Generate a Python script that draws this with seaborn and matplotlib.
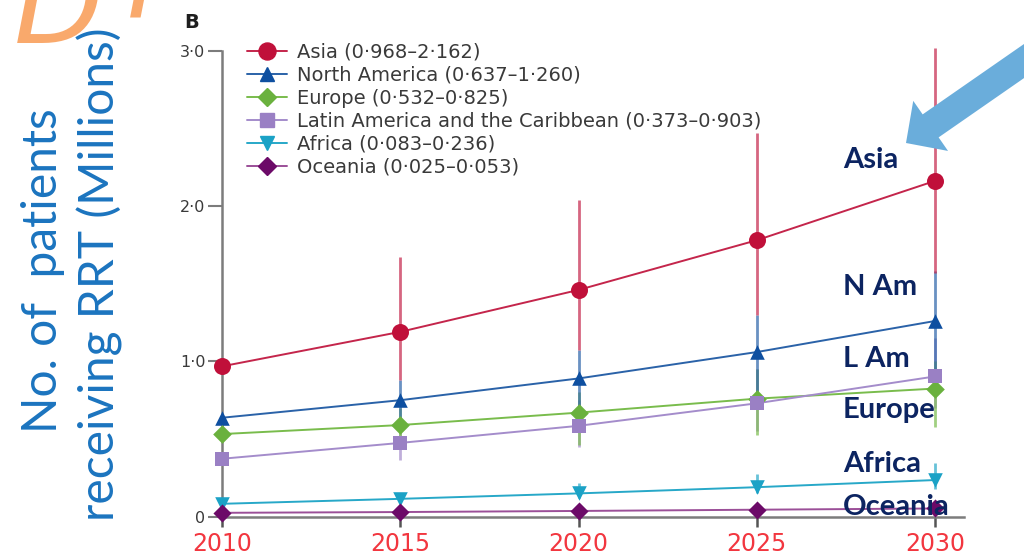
import matplotlib
matplotlib.use("Agg")
import matplotlib.pyplot as plt
from matplotlib.lines import Line2D
from matplotlib.patches import FancyArrow
import pandas as pd
import seaborn as sns

# ---- data (millions of patients receiving RRT) ----
years = [2010, 2015, 2020, 2025, 2030]

asia = [0.968, 1.19, 1.46, 1.78, 2.162]
asia_lo = [0.968, 0.88, 1.07, 1.30, 1.57]
asia_hi = [0.968, 1.67, 2.04, 2.47, 3.02]

north_america = [0.637, 0.75, 0.89, 1.06, 1.260]
north_america_lo = [0.637, 0.62, 0.70, 0.80, 0.92]
north_america_hi = [0.637, 0.88, 1.075, 1.30, 1.58]

europe = [0.532, 0.59, 0.67, 0.76, 0.825]
europe_lo = [0.532, 0.50, 0.46, 0.527, 0.58]
europe_hi = [0.532, 0.70, 0.80, 0.95, 1.00]

latin_america = [0.373, 0.475, 0.585, 0.73, 0.903]
latin_america_lo = [0.373, 0.365, 0.45, 0.55, 0.70]
latin_america_hi = [0.373, 0.62, 0.75, 0.95, 1.15]

africa = [0.083, 0.115, 0.15, 0.19, 0.236]
africa_lo = [0.083, 0.09, 0.12, 0.15, 0.18]
africa_hi = [0.083, 0.14, 0.215, 0.275, 0.345]

oceania = [0.025, 0.03, 0.037, 0.045, 0.053]
oceania_lo = [0.025, 0.022, 0.028, 0.034, 0.040]
oceania_hi = [0.025, 0.038, 0.046, 0.056, 0.066]

legend_labels = [
    "Asia (0·968–2·162)",
    "North America (0·637–1·260)",
    "Europe (0·532–0·825)",
    "Latin America and the Caribbean (0·373–0·903)",
    "Africa (0·083–0·236)",
    "Oceania (0·025–0·053)",
]
short_labels = ["Asia", "N Am", "L Am", "Europe", "Africa", "Oceania"]
y_tick_values = [0, 1, 2, 3]
y_tick_labels = ["0", "1·0", "2·0", "3·0"]
x_tick_labels = ["2010", "2015", "2020", "2025", "2030"]

series = [asia, north_america, europe, latin_america, africa, oceania]
lows = [asia_lo, north_america_lo, europe_lo, latin_america_lo, africa_lo, oceania_lo]
highs = [asia_hi, north_america_hi, europe_hi, latin_america_hi, africa_hi, oceania_hi]

line_colors = ["#c4254b", "#2a62a8", "#79bc4c", "#a48ccb", "#27a8c8", "#9b4f98"]
marker_colors = ["#c0103a", "#0e4fa0", "#6ab13e", "#9a80c4", "#1ba2c6", "#6c0a68"]
markers = ["o", "^", "D", "s", "v", "D"]
marker_sizes = [150, 110, 90, 110, 110, 85]

rows = []
for lab, vals, lo, hi in zip(legend_labels, series, lows, highs):
    for yr, v, l, h in zip(years, vals, lo, hi):
        rows.append({"year": yr, "value": v, "lo": l, "hi": h, "region": lab})
df = pd.DataFrame(rows)

sns.set_style("ticks")
plt.rcParams["font.family"] = ["DejaVu Sans"]

W, H = 1024, 558
fig = plt.figure(figsize=(W / 100, H / 100), dpi=100)
fig.patch.set_facecolor("white")

ax = fig.add_axes([222 / W, 1 - 516.7 / H, (964 - 222) / W, (516.7 - 50.7) / H])
ax.set_facecolor("white")

# uncertainty ranges, drawn underneath the lines
for lab, col in reversed(list(zip(legend_labels, line_colors))):
    sub = df[df["region"] == lab]
    ax.vlines(sub["year"], sub["lo"], sub["hi"], colors=col, lw=2.0,
              alpha=0.7, zorder=2, clip_on=False)

pal_lines = dict(zip(legend_labels, line_colors))
pal_markers = dict(zip(legend_labels, marker_colors))
marker_map = dict(zip(legend_labels, markers))
size_map = dict(zip(legend_labels, marker_sizes))

sns.lineplot(data=df, x="year", y="value", hue="region", palette=pal_lines,
             hue_order=legend_labels, lw=1.4, legend=False, ax=ax, zorder=3)
for lab in legend_labels:
    sub = df[df["region"] == lab]
    sns.scatterplot(data=sub, x="year", y="value", marker=marker_map[lab],
                    color=pal_markers[lab], s=size_map[lab], linewidth=0,
                    legend=False, ax=ax, zorder=4, clip_on=False)

ax.set_xlim(2010, 2030.81)
ax.set_ylim(0, 3.0)
ax.set_xticks(years)
ax.set_xticklabels(x_tick_labels)
ax.set_yticks(y_tick_values)
ax.set_yticklabels(y_tick_labels)
ax.set_xlabel("")
ax.set_ylabel("")

sns.despine(ax=ax)
for side in ("left", "bottom"):
    ax.spines[side].set_color("#7c7c7c")
    ax.spines[side].set_linewidth(1.8)
ax.tick_params(axis="y", direction="out", length=10, width=1.5, color="#7c7c7c",
               pad=2, labelsize=11.5, labelcolor="#3a3a3a")
ax.tick_params(axis="x", direction="out", length=7, width=1.8, color="#555555",
               pad=4, labelsize=17, labelcolor="#f2363f")

# legend
handles = [
    Line2D([0], [0], color=lc, lw=1.4, marker=m, markersize=ms ** 0.5,
           markerfacecolor=mc, markeredgecolor=mc)
    for lc, mc, m, ms in zip(line_colors, marker_colors, markers, marker_sizes)
]
leg = ax.legend(handles, legend_labels, loc="upper left",
                bbox_to_anchor=(247 / W, 1 - 43 / H), bbox_transform=fig.transFigure,
                frameon=False, fontsize=14, handlelength=2.05, handletextpad=0.5,
                labelspacing=0.2, borderpad=0, borderaxespad=0)
for t in leg.get_texts():
    t.set_color("#3a3a3a")

# overlay in pixel coordinates for annotations
ov = fig.add_axes([0, 0, 1, 1], zorder=10)
ov.set_xlim(0, W)
ov.set_ylim(H, 0)
ov.axis("off")
ov.patch.set_alpha(0)

# watermark lettering running off the top edge
ov.text(14, 43, "D", fontsize=84, style="italic", color="#f9a96c",
        va="baseline", ha="left", zorder=1)
ov.text(126, 18, "r", fontsize=84, style="italic", color="#f9a96c",
        va="baseline", ha="left", zorder=1)

ov.text(184, 28, "B", fontsize=14, fontweight="bold", color="#1e1e1e",
        va="baseline", ha="left")

ov.text(43, 271, "No. of  patients", rotation=90, fontsize=34.5, color="#1b74bf",
        family="Lato", ha="center", va="center", zorder=2)
ov.text(100, 274, "receiving RRT (Millions)", rotation=90, fontsize=34.5,
        color="#1b74bf", family="Lato", ha="center", va="center", zorder=2)

label_baselines = [168, 295, 367, 418, 472, 515]
for txt, yb in zip(short_labels, label_baselines):
    ov.text(843, yb, txt, fontsize=21, fontweight="bold", color="#0c2461",
            family="Lato", va="baseline", ha="left")

ov.add_patch(FancyArrow(1050, 43, -144, 100, width=28, head_width=61,
                        head_length=30, length_includes_head=True,
                        color="#6aaddb", lw=0))

fig.savefig("out.png", dpi=100, facecolor="white")
